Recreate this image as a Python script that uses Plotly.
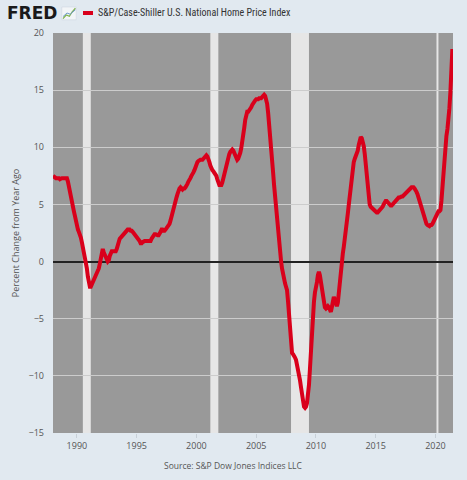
"""
S&P/Case-Shiller U.S. National Home Price Index - cambio porcentual anual (estilo FRED)
"""
import plotly.graph_objects as go
import pandas as pd

# Valores mensuales, % de cambio respecto al año anterior
yoy_1988 = [7.5, 7.4, 7.4, 7.3, 7.3, 7.3, 7.3, 7.2, 7.3, 7.3, 7.3, 7.3]
yoy_1989 = [7.3, 7.3, 7.3, 7.0, 6.5, 6.0, 5.5, 5.1, 4.8, 4.4, 4.0, 3.5]
yoy_1990 = [3.1, 2.8, 2.6, 2.4, 2.1, 1.7, 1.3, 0.9, 0.5, 0.0, -0.6, -1.3]
yoy_1991 = [-1.9, -2.2, -2.2, -2.0, -1.7, -1.5, -1.3, -1.1, -0.9, -0.8, -0.6, -0.2]
yoy_1992 = [0.4, 0.9, 1.1, 0.8, 0.5, 0.3, 0.2, 0.0, 0.1, 0.5, 0.8, 0.9]
yoy_1993 = [0.9, 0.9, 0.9, 0.9, 1.1, 1.5, 1.9, 2.0, 2.1, 2.2, 2.3, 2.5]
yoy_1994 = [2.6, 2.7, 2.8, 2.8, 2.8, 2.8, 2.7, 2.7, 2.6, 2.5, 2.4, 2.3]
yoy_1995 = [2.2, 2.1, 1.9, 1.8, 1.6, 1.6, 1.7, 1.8, 1.8, 1.8, 1.8, 1.8]
yoy_1996 = [1.8, 1.8, 1.8, 2.0, 2.2, 2.4, 2.4, 2.4, 2.3, 2.3, 2.3, 2.4]
yoy_1997 = [2.6, 2.8, 2.8, 2.7, 2.7, 2.8, 2.9, 3.1, 3.2, 3.3, 3.6, 4.0]
yoy_1998 = [4.4, 4.7, 5.0, 5.3, 5.6, 5.9, 6.2, 6.4, 6.5, 6.4, 6.3, 6.4]
yoy_1999 = [6.4, 6.5, 6.6, 6.8, 7.0, 7.1, 7.3, 7.5, 7.6, 7.8, 8.0, 8.3]
yoy_2000 = [8.5, 8.7, 8.8, 8.9, 8.9, 8.9, 8.9, 9.0, 9.1, 9.2, 9.3, 9.2]
yoy_2001 = [9.0, 8.7, 8.4, 8.1, 8.0, 7.9, 7.8, 7.7, 7.5, 7.2, 6.9, 6.7]
yoy_2002 = [6.7, 6.7, 6.9, 7.3, 7.8, 8.2, 8.5, 8.8, 9.1, 9.4, 9.6, 9.7]
yoy_2003 = [9.8, 9.7, 9.5, 9.2, 9.0, 8.9, 9.0, 9.2, 9.5, 9.9, 10.4, 11.0]
yoy_2004 = [11.7, 12.4, 12.9, 13.1, 13.1, 13.2, 13.3, 13.5, 13.7, 13.9, 14.0, 14.1]
yoy_2005 = [14.2, 14.2, 14.2, 14.3, 14.3, 14.3, 14.4, 14.5, 14.6, 14.5, 14.2, 13.8]
yoy_2006 = [13.0, 12.1, 11.1, 10.0, 8.9, 7.8, 6.7, 5.6, 4.5, 3.6, 2.8, 2.2]
yoy_2007 = [0.9, 0.0, -0.6, -1.2, -1.6, -1.9, -2.2, -2.5, -3.5, -4.8, -6.2, -7.3]
yoy_2008 = [-8.0, -8.1, -8.2, -8.4, -8.6, -9.0, -9.5, -10.0, -10.4, -11.0, -11.8, -12.5]
yoy_2009 = [-12.7, -12.8, -12.7, -12.4, -11.8, -10.8, -9.4, -7.7, -6.0, -4.6, -3.5, -2.7]
yoy_2010 = [-2.4, -1.8, -1.2, -0.9, -1.2, -1.8, -2.5, -3.1, -3.6, -4.0, -4.1, -4.0]
yoy_2011 = [-3.9, -4.0, -4.3, -4.4, -4.0, -3.5, -3.1, -3.3, -3.7, -3.9, -3.6, -2.6]
yoy_2012 = [-1.8, -0.9, 0.0, 0.7, 1.3, 1.9, 2.5, 3.3, 4.2, 5.0, 5.8, 6.7]
yoy_2013 = [7.6, 8.3, 8.7, 9.0, 9.2, 9.4, 9.7, 10.2, 10.7, 10.9, 10.8, 10.5]
yoy_2014 = [10.1, 9.4, 8.4, 7.4, 6.4, 5.6, 5.0, 4.8, 4.7, 4.6, 4.5, 4.4]
yoy_2015 = [4.3, 4.3, 4.3, 4.4, 4.4, 4.5, 4.6, 4.8, 5.0, 5.2, 5.3, 5.3]
yoy_2016 = [5.2, 5.0, 4.9, 4.9, 4.9, 5.0, 5.1, 5.2, 5.4, 5.5, 5.6, 5.6]
yoy_2017 = [5.6, 5.7, 5.7, 5.7, 5.8, 5.9, 6.0, 6.1, 6.2, 6.3, 6.4, 6.5]
yoy_2018 = [6.5, 6.5, 6.5, 6.4, 6.3, 6.1, 5.9, 5.6, 5.2, 4.9, 4.6, 4.3]
yoy_2019 = [3.9, 3.7, 3.5, 3.3, 3.2, 3.1, 3.1, 3.2, 3.2, 3.3, 3.5, 3.7]
yoy_2020 = [4.0, 4.2, 4.4, 4.4, 4.4, 4.5, 5.3, 6.6, 8.0, 9.0, 10.0, 11.0]
yoy_2021 = [11.6, 12.3, 13.4, 14.8, 16.6, 18.6]

# Recesiones (NBER) para el sombreado
recession_starts = ['1990-07-01', '2001-03-01', '2007-12-01', '2020-02-01']
recession_ends = ['1991-03-01', '2001-11-01', '2009-06-01', '2020-04-01']

y_ticks = [20, 15, 10, 5, 0, -5, -10, -15]
x_ticks = ['1990-01-01', '1995-01-01', '2000-01-01', '2005-01-01',
           '2010-01-01', '2015-01-01', '2020-01-01']
x_tick_labels = ['1990', '1995', '2000', '2005', '2010', '2015', '2020']

series_name = 'S&P/Case-Shiller U.S. National Home Price Index'
source_text = 'Source: S&P Dow Jones Indices LLC'

values = (yoy_1988 + yoy_1989 + yoy_1990 + yoy_1991 + yoy_1992 + yoy_1993 +
          yoy_1994 + yoy_1995 + yoy_1996 + yoy_1997 + yoy_1998 + yoy_1999 +
          yoy_2000 + yoy_2001 + yoy_2002 + yoy_2003 + yoy_2004 + yoy_2005 +
          yoy_2006 + yoy_2007 + yoy_2008 + yoy_2009 + yoy_2010 + yoy_2011 +
          yoy_2012 + yoy_2013 + yoy_2014 + yoy_2015 + yoy_2016 + yoy_2017 +
          yoy_2018 + yoy_2019 + yoy_2020 + yoy_2021)
dates = pd.date_range('1988-01-01', periods=len(values), freq='MS')

FONT = 'Open Sans, Noto Sans, sans-serif'
NARROW = 'Liberation Sans Narrow, Roboto Condensed, Lato, sans-serif'
RED = '#d9001b'

fig = go.Figure()

fig.add_trace(go.Scatter(
    x=dates, y=values, mode='lines',
    line=dict(color=RED, width=4),
    name=series_name, showlegend=False, hoverinfo='x+y'
))

# Sombreado de recesiones
for start, end in zip(recession_starts, recession_ends):
    fig.add_shape(type='rect', xref='x', yref='paper',
                  x0=start, x1=end, y0=0, y1=1,
                  fillcolor='#e6e6e6', line=dict(width=0), layer='below')

# Logo FRED (coordenadas paper: 400 px de alto y ancho de trazado)
fig.add_annotation(text='<b>FRED</b>', xref='paper', yref='paper',
                   x=-0.12, y=1.049, xanchor='left', yanchor='middle',
                   showarrow=False, font=dict(family='DejaVu Sans, sans-serif',
                                              size=17, color='#1a1a1a'))
fig.add_shape(type='rect', xref='paper', yref='paper',
              x0=0.022, x1=0.058, y0=1.033, y1=1.065,
              fillcolor='#f2f5f7', line=dict(color='#c9d3dc', width=0.5))
fig.add_shape(type='path', xref='paper', yref='paper',
              path='M 0.025,1.036 L 0.033,1.045 L 0.041,1.042 L 0.048,1.053 L 0.056,1.062',
              line=dict(color='#7fb24a', width=1.2))
fig.add_shape(type='path', xref='paper', yref='paper',
              path='M 0.025,1.041 L 0.035,1.05 L 0.043,1.047 L 0.056,1.058',
              line=dict(color='#6f9bc8', width=1))

# Leyenda manual
fig.add_shape(type='line', xref='paper', yref='paper',
              x0=0.075, x1=0.1, y0=1.05, y1=1.05,
              line=dict(color=RED, width=4))
fig.add_annotation(text=series_name, xref='paper', yref='paper',
                   x=0.107, y=1.05, xanchor='left', yanchor='middle',
                   showarrow=False, font=dict(family=NARROW, size=10, color='#333333'))

# Fuente
fig.add_annotation(text=source_text, xref='paper', yref='paper',
                   x=0.45, y=-0.082, xanchor='center', yanchor='middle',
                   showarrow=False, font=dict(family=FONT, size=8.5, color='#555555'))

fig.update_layout(
    width=467, height=480,
    margin=dict(l=53, r=14, t=33, b=47),
    paper_bgcolor='#e1e9f0',
    plot_bgcolor='#999999',
    font=dict(family=FONT, size=9, color='#555555'),
    xaxis=dict(
        range=['1988-01-01', '2021-06-20'],
        tickvals=x_ticks, ticktext=x_tick_labels,
        showgrid=False, zeroline=False, showline=False,
        ticks='outside', ticklen=4, tickcolor='#c8d0d8',
        tickfont=dict(size=9, color='#555555'), automargin=False
    ),
    yaxis=dict(
        range=[-15, 20],
        tickvals=y_ticks,
        showgrid=True, gridcolor='#cccccc', gridwidth=1,
        zeroline=True, zerolinecolor='#222222', zerolinewidth=2,
        showline=False, ticks='', ticklabelstandoff=8,
        tickfont=dict(size=9, color='#555555'), automargin=False,
        title=dict(text='Percent Change from Year Ago', standoff=7,
                   font=dict(size=9, color='#555555'))
    ),
)

fig.write_html('out.html', config={'displayModeBar': False},
               post_script="document.body.style.margin='0';")
